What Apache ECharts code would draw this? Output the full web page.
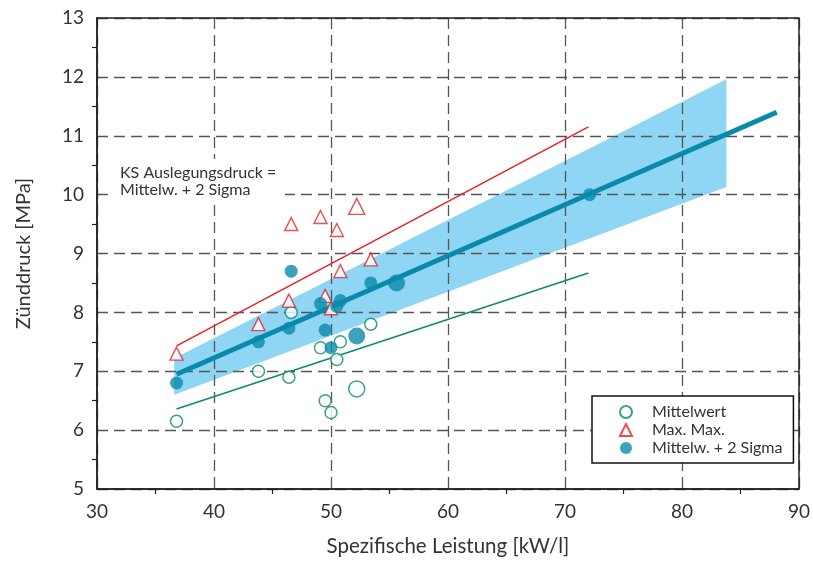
<!DOCTYPE html>
<html>
<head>
<meta charset="utf-8">
<script src="https://cdn.jsdelivr.net/npm/echarts@6/dist/echarts.min.js"></script>
<style>html,body{margin:0;padding:0;background:#fff}#c{width:813px;height:563px}</style>
</head>
<body>
<div id="c"></div>
<script>
// ---- data ----
const xMittel = [36.8, 43.8, 46.4, 46.6, 49.1, 49.5, 50.0, 50.5, 50.8, 52.2, 53.4];
const yMittel = [6.15, 7.0, 6.9, 8.0, 7.4, 6.5, 6.3, 7.2, 7.5, 6.7, 7.8];
const xMax = [36.8, 43.8, 46.4, 46.6, 49.1, 49.5, 50.0, 50.5, 50.8, 52.2, 53.4];
const yMax = [7.3, 7.8, 8.2, 9.5, 9.62, 8.28, 8.07, 9.4, 8.7, 9.8, 8.9];
const xSigma = [36.8, 43.8, 46.4, 46.6, 49.1, 49.5, 50.0, 50.5, 50.8, 52.2, 53.4, 55.6, 72.1];
const ySigma = [6.8, 7.5, 7.73, 8.7, 8.15, 7.7, 7.4, 8.1, 8.2, 7.6, 8.5, 8.5, 10.0];
const redLineX = [36.8, 72.0];
const redLineY = [7.43, 11.15];
const greenLineX = [36.8, 72.0];
const greenLineY = [6.36, 8.67];
const trendX = [36.8, 88.1];
const trendY = [6.95, 11.4];
const bandX = [36.6, 83.8];
const bandUpper = [7.22, 11.96];
const bandLower = [6.6, 10.13];
const highlightX = [52.2, 55.6]; // points drawn with larger markers
const seriesNames = ['Mittelwert', 'Max. Max.', 'Mittelw. + 2 Sigma'];
const noteLines = ['KS Auslegungsdruck =', 'Mittelw. + 2 Sigma'];
const xName = 'Spezifische Leistung [kW/l]';
const yName = 'Zünddruck [MPa]';

const pairs = (xs, ys) => xs.map((x, i) => [x, ys[i]]);
const FONT = 'Lato';
const BLUE = '#0a8aab', RED = '#e8202a', GREEN = '#0e8a6a', BAND = '#8fd6f5';
const sizeFn = (base, big) => (v) => highlightX.includes(v[0]) ? big : base;

const chart = echarts.init(document.getElementById('c'), null, {renderer: 'canvas'});
const gridDash = {color: '#555', width: 1.3, type: [11, 6]};
chart.setOption({
  animation: false,
  backgroundColor: '#fff',
  textStyle: {fontFamily: FONT},
  grid: {left: 97, right: 9, top: 18, bottom: 74, show: true, borderColor: '#222', borderWidth: 1.5, backgroundColor: 'transparent', z: 4},
  xAxis: {
    type: 'value', min: 30, max: 90, interval: 10, z: 2,
    name: xName, nameLocation: 'middle', nameGap: 47,
    nameTextStyle: {fontSize: 20.5, color: '#333', fontFamily: FONT},
    axisLine: {show: true, lineStyle: {color: '#222', width: 1.5}},
    axisTick: {show: false},
    minorTick: {show: true, splitNumber: 2, length: 5, lineStyle: {color: '#222', width: 1.2}},
    axisLabel: {fontSize: 19, color: '#333', margin: 13, fontFamily: FONT},
    splitLine: {show: true, lineStyle: gridDash}
  },
  yAxis: {
    type: 'value', min: 5, max: 13, interval: 1, z: 2,
    name: yName, nameLocation: 'middle', nameGap: 63, nameRotate: 90,
    nameTextStyle: {fontSize: 20, color: '#333', fontFamily: FONT},
    axisLine: {show: true, lineStyle: {color: '#222', width: 1.5}},
    axisTick: {show: false},
    minorTick: {show: true, splitNumber: 2, length: 5, lineStyle: {color: '#222', width: 1.2}},
    axisLabel: {fontSize: 19, color: '#333', margin: 13, fontFamily: FONT},
    splitLine: {show: true, lineStyle: gridDash}
  },
  legend: {
    data: seriesNames.map(n => ({name: n})),
    orient: 'vertical', left: 592, top: 396,
    padding: [8, 11, 7, 27],
    itemWidth: 12, itemHeight: 12, itemGap: 2,
    backgroundColor: '#fff', borderColor: '#111', borderWidth: 1.5,
    textStyle: {fontSize: 16, color: '#333', fontFamily: FONT, lineHeight: 16, padding: [0, 0, 0, 15]},
    z: 10
  },
  graphic: [{
    type: 'group', left: 112, top: 159, z: 10,
    children: [
      {type: 'rect', shape: {x: 0, y: 0, width: 173, height: 42}, style: {fill: '#fff'}, z: 10},
      {type: 'text', x: 8, y: 5, z: 11, style: {text: noteLines.join('\n'), fill: '#333', font: '16px ' + FONT, lineHeight: 17}}
    ]
  }],
  series: [
    {
      type: 'custom', name: 'band', z: 1, silent: true,
      data: [[bandX[0], bandLower[0]]],
      renderItem: (params, api) => {
        const pts = [
          api.coord([bandX[0], bandUpper[0]]),
          api.coord([bandX[1], bandUpper[1]]),
          api.coord([bandX[1], bandLower[1]]),
          api.coord([bandX[0], bandLower[0]])
        ];
        return {type: 'polygon', shape: {points: pts}, style: {fill: BAND}};
      }
    },
    {type: 'line', name: 'redLine', z: 3, data: pairs(redLineX, redLineY), symbol: 'none', lineStyle: {color: RED, width: 1.5}, silent: true},
    {type: 'line', name: 'greenLine', z: 3, data: pairs(greenLineX, greenLineY), symbol: 'none', lineStyle: {color: GREEN, width: 1.5}, silent: true},
    {type: 'line', name: 'trend', z: 3, data: pairs(trendX, trendY), symbol: 'none', lineStyle: {color: BLUE, width: 5, cap: 'butt'}, silent: true},
    {type: 'scatter', name: seriesNames[0], z: 4, data: pairs(xMittel, yMittel), symbol: 'circle', symbolSize: sizeFn(12, 16),
      itemStyle: {color: '#fff', borderColor: GREEN, borderWidth: 1.5}},
    {type: 'scatter', name: seriesNames[1], z: 4, data: pairs(xMax, yMax), symbol: 'triangle', symbolSize: sizeFn(13, 16),
      itemStyle: {color: '#fff', borderColor: RED, borderWidth: 1.4}},
    {type: 'scatter', name: seriesNames[2], z: 5, data: pairs(xSigma, ySigma), symbol: 'circle', symbolSize: sizeFn(13, 17),
      itemStyle: {color: BLUE}}
  ]
});
</script>
</body>
</html>
